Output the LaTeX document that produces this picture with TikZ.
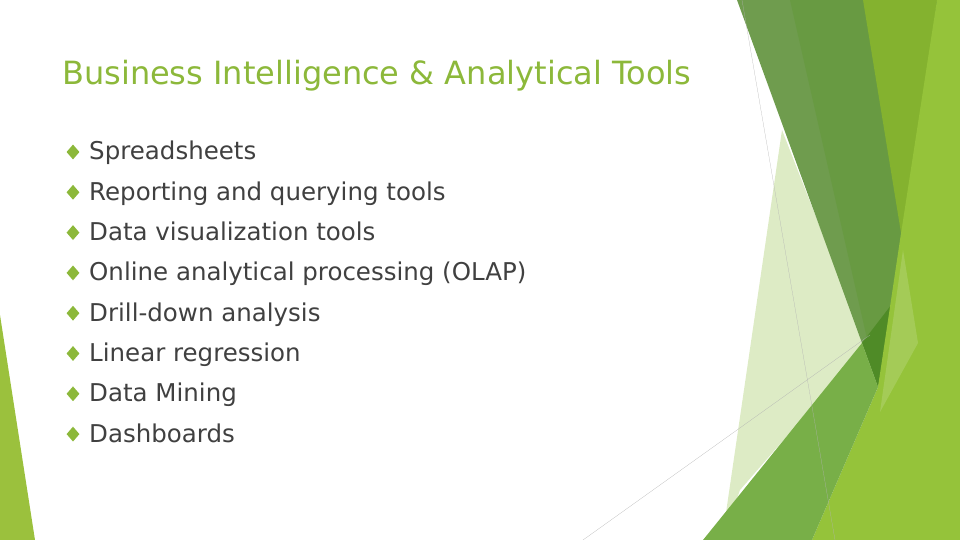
\documentclass[tikz,border=0pt]{standalone}
\usepackage{fontspec}
\setmainfont{DejaVu Sans}
\usetikzlibrary{positioning,shapes.geometric}
\definecolor{titlegreen}{HTML}{8CB83A}
\definecolor{textgray}{HTML}{404040}
\definecolor{darkleaf}{HTML}{6F9C4E}
\definecolor{deepleaf}{HTML}{689A42}
\definecolor{darkestleaf}{HTML}{4F8B27}
\definecolor{oliveleaf}{HTML}{84B22F}
\definecolor{brightleaf}{HTML}{95C33A}
\definecolor{midleaf}{HTML}{78AF48}
\definecolor{paleleaf}{HTML}{DDEBC5}
\definecolor{sideleaf}{HTML}{9BC13D}
\begin{document}
\begin{tikzpicture}[
					x=1pt, y=-1pt,
					title/.style={anchor=base west, inner sep=0pt, text=titlegreen, font=\fontsize{32}{35}\selectfont},
					item/.style={anchor=base west, inner sep=0pt, text=textgray, font=\fontsize{24.5}{27}\selectfont},
					bullet/.style={fill=titlegreen, shape=diamond, inner sep=0pt, minimum width=13pt, minimum height=15pt},
				]
				\useasboundingbox (0,0) rectangle (960,540);
				% background leaves
				\fill[sideleaf] (0,315) -- (35,540) -- (0,540) -- cycle;
				\fill[paleleaf] (782,130) -- (866,345) -- (740,490) -- (722,540) -- cycle;
				\fill[darkleaf] (737,0) -- (940,0) -- (878,387) -- cycle;
				\fill[deepleaf] (790,0) -- (940,0) -- (878,387) -- cycle;
				\fill[darkestleaf] (862,343) -- (895,300) -- (878,387) -- cycle;
				\fill[oliveleaf] (863,0) -- (937,0) -- (903,245) -- cycle;
				\fill[brightleaf] (937,0) -- (960,0) -- (960,540) -- (812,540) -- (878,387) -- (900,240) -- cycle;
				\fill[midleaf] (703,540) -- (862,343) -- (878,387) -- (812,540) -- cycle;
				\fill[white, opacity=0.15] (903,250) -- (918,343) -- (880,412) -- cycle;
				\draw[gray!60, very thin] (742,0) -- (835,540);
				\draw[gray!60, very thin] (583,540) -- (870,335);

				% text
				\node[title, name=T] at (62,85) {Business Intelligence \& Analytical Tools};
				\foreach \i/\txt in {1/Spreadsheets, 2/Reporting and querying tools, 3/Data visualization tools,
					4/Online analytical processing (OLAP), 5/Drill-down analysis, 6/Linear regression,
					7/Data Mining, 8/Dashboards} {
					\node[item, name=I\i] at (89,{160+40.3*(\i-1)}) {\txt};
					\node[bullet, name=B\i] at (73,{152+40.3*(\i-1)}) {};
				}
			\end{tikzpicture}
\end{document}
